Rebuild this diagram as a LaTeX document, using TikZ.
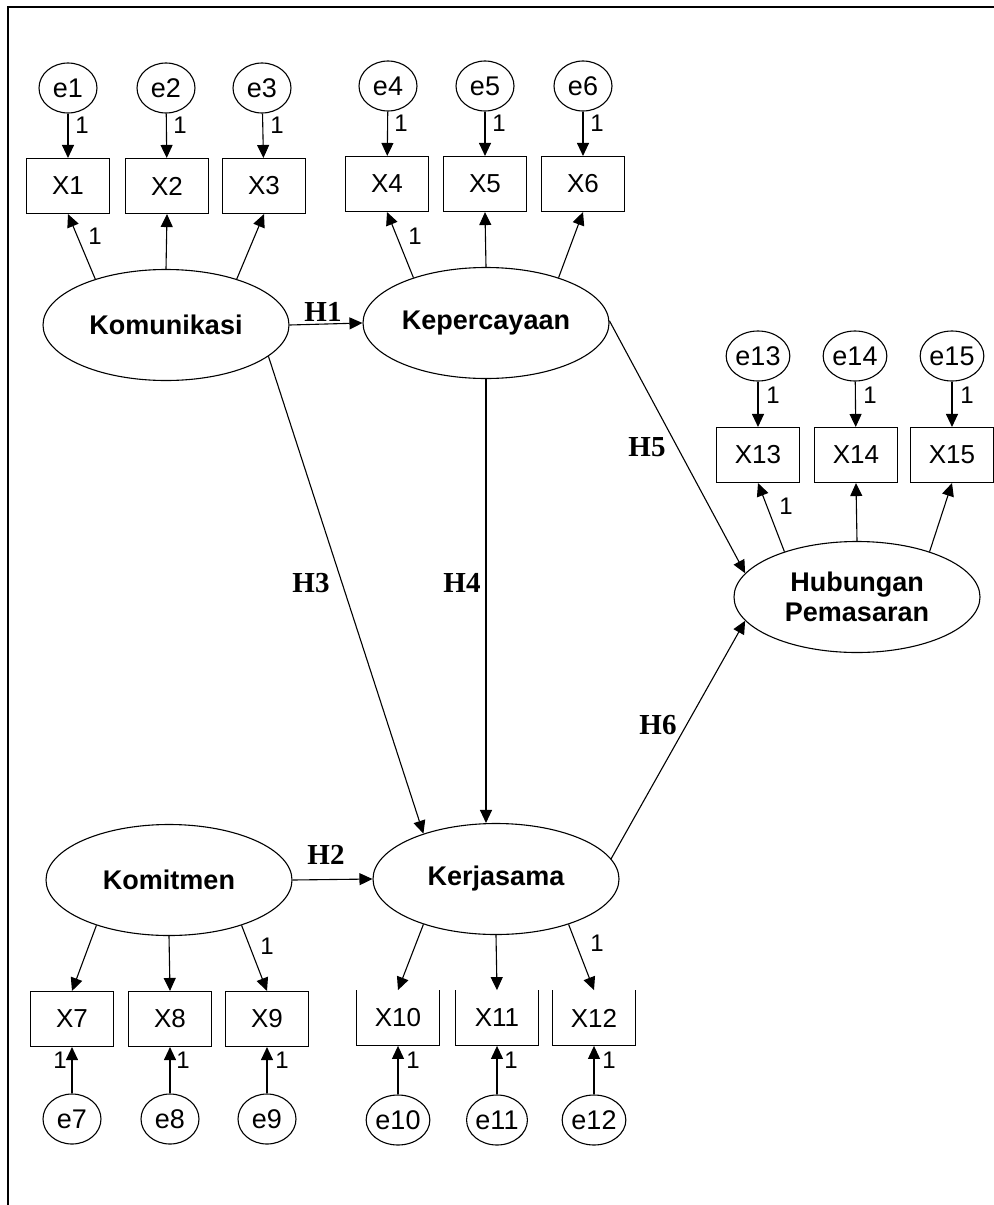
\documentclass[tikz,border=0pt]{standalone}
\usepackage{fontspec}
\setmainfont{Liberation Sans}
\newfontfamily\hfont{Liberation Serif}
\usetikzlibrary{shapes.geometric,arrows.meta,calc}
\tikzset{
  err/.style={ellipse, draw, line width=0.55pt, minimum width=29pt, minimum height=25pt, inner sep=0pt, font=\fontsize{13.5}{13.5}\selectfont},
  obs/.style={rectangle, draw, line width=0.55pt, minimum width=41.5pt, minimum height=27.5pt, inner sep=0pt, font=\fontsize{13}{13}\selectfont},
  obsopen/.style={rectangle, minimum width=41.5pt, minimum height=27.5pt, inner sep=0pt, font=\fontsize{13}{13}\selectfont},
  lat/.style={ellipse, draw, line width=0.55pt, minimum width=123pt, minimum height=55.5pt, inner sep=0pt, font=\bfseries\fontsize{13.5}{15}\selectfont, align=center},
  arr/.style={-{Triangle[length=6.5pt,width=6pt]}, line width=0.55pt},
  one/.style={font=\fontsize{12}{12}\selectfont, inner sep=0pt},
  hyp/.style={font=\hfont\bfseries\fontsize{14.5}{14.5}\selectfont, inner sep=0pt},
  frame/.style={line width=1.4pt}
}
\begin{document}
\begin{tikzpicture}[x=0.5pt,y=-0.5pt]
\useasboundingbox (0,0) rectangle (994,1205);
% frame
\coordinate (fa) at (994,7);
\coordinate (fb) at (8,7);
\coordinate (fc) at (8,1205);
\draw[frame] (fa) -- (fb) -- (fc);

% latent variables
\node[lat] (kom) at (166,325) {Komunikasi};
\node[lat] (kep) at (486,323) {Kepercayaan};
\node[lat] (hub) at (857,597) {Hubungan\\Pemasaran};
\node[lat] (kmt) at (169,880) {Komitmen};
\node[lat] (ker) at (496,879) {Kerjasama};

% top-left group
\node[err] (e1) at (68,88) {e1};
\node[err] (e2) at (166,88) {e2};
\node[err] (e3) at (262,88) {e3};
\node[obs] (x1) at (68,186) {X1};
\node[obs] (x2) at (167,186) {X2};
\node[obs] (x3) at (264,186) {X3};
% top-middle group
\node[err] (e4) at (388,86) {e4};
\node[err] (e5) at (485,86) {e5};
\node[err] (e6) at (583,86) {e6};
\node[obs] (x4) at (387,184) {X4};
\node[obs] (x5) at (485,184) {X5};
\node[obs] (x6) at (583,184) {X6};
% right group
\node[err] (e13) at (758,356) {e13};
\node[err] (e14) at (855,356) {e14};
\node[err] (e15) at (952,356) {e15};
\node[obs] (x13) at (758,455) {X13};
\node[obs] (x14) at (856,455) {X14};
\node[obs] (x15) at (952,455) {X15};
% bottom-left group
\node[obs] (x7) at (72,1019) {X7};
\node[obs] (x8) at (170,1019) {X8};
\node[obs] (x9) at (267,1019) {X9};
\node[err] (e7) at (72,1119) {e7};
\node[err] (e8) at (170,1119) {e8};
\node[err] (e9) at (267,1119) {e9};
% bottom-middle group
\node[obsopen] (x10) at (398,1018) {X10};
\node[obsopen] (x11) at (497,1018) {X11};
\node[obsopen] (x12) at (594,1018) {X12};
\draw[line width=0.55pt] (x10.north west) -- (x10.south west) -- (x10.south east) -- (x10.north east);
\draw[line width=0.55pt] (x11.north west) -- (x11.south west) -- (x11.south east) -- (x11.north east);
\draw[line width=0.55pt] (x12.north west) -- (x12.south west) -- (x12.south east) -- (x12.north east);
\node[err] (e10) at (398,1120) {e10};
\node[err] (e11) at (497,1120) {e11};
\node[err] (e12) at (594,1120) {e12};

% error arrows
\foreach \i in {1,...,6,13,14,15} {\draw[arr] (e\i) -- (x\i);}
\foreach \i in {7,...,12} {\draw[arr] (e\i) -- (x\i);}
% loadings
\draw[arr] (kom.147) -- (x1.south);
\draw[arr] (kom.90) -- (x2.south);
\draw[arr] (kom.33) -- (x3.south);
\draw[arr] (kep.148) -- (x4.south);
\draw[arr] (kep.90) -- (x5.south);
\draw[arr] (kep.32) -- (x6.south);
\draw[arr] (hub.148) -- (x13.south);
\draw[arr] (hub.90) -- (x14.south);
\draw[arr] (hub.32) -- (x15.south);
\draw[arr] (kmt.212) -- (x7.north);
\draw[arr] (kmt.270) -- (x8.north);
\draw[arr] (kmt.328) -- (x9.north);
\draw[arr] (ker.212) -- (x10.north);
\draw[arr] (ker.270) -- (x11.north);
\draw[arr] (ker.328) -- (x12.north);

% structural paths
\draw[arr] (kom.east) -- (kep.west);
\draw[arr] (kmt.east) -- (ker.west);
\draw[arr] (kom.-17) -- (ker.148);
\draw[arr] (kep.south) -- (kep.south |- ker.north);
\draw[arr] (kep.1) -- (hub.168);
\draw[arr] (ker.10) -- (hub.192);

% hypothesis labels
\node[hyp] (h1) at (323,312) {H1};
\node[hyp] (h2) at (326,855) {H2};
\node[hyp] (h3) at (311,583) {H3};
\node[hyp] (h4) at (462,583) {H4};
\node[hyp] (h5) at (647,447) {H5};
\node[hyp] (h6) at (658,725) {H6};

% "1" labels
\node[one] (o1) at (82,125) {1};
\node[one] (o2) at (180,125) {1};
\node[one] (o3) at (277,125) {1};
\node[one] (o4) at (401,123) {1};
\node[one] (o5) at (499,123) {1};
\node[one] (o6) at (597,123) {1};
\node[one] (o13) at (773,395) {1};
\node[one] (o14) at (870,395) {1};
\node[one] (o15) at (967,395) {1};
\node[one] (o7) at (60,1060) {1};
\node[one] (o8) at (183,1060) {1};
\node[one] (o9) at (282,1060) {1};
\node[one] (o10) at (413,1060) {1};
\node[one] (o11) at (511,1060) {1};
\node[one] (o12) at (609,1060) {1};
\node[one] (l1) at (95,236) {1};
\node[one] (l4) at (415,236) {1};
\node[one] (l13) at (786,506) {1};
\node[one] (l9) at (267,946) {1};
\node[one] (l12) at (597,943) {1};
\end{tikzpicture}
\end{document}
